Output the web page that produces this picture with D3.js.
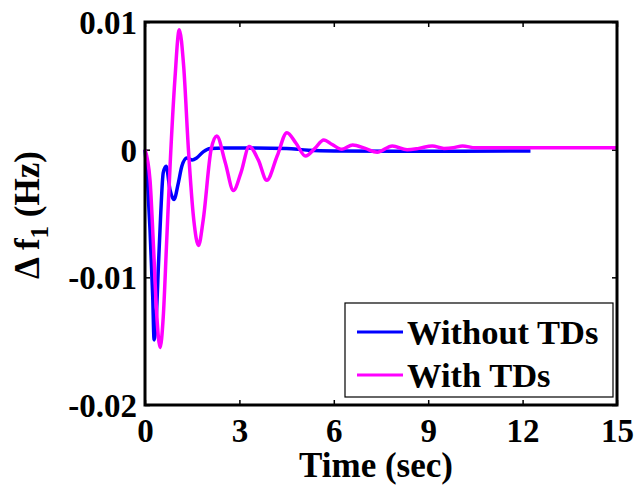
<!DOCTYPE html>
<html>
<head>
<meta charset="utf-8">
<script src="https://cdn.jsdelivr.net/npm/d3@7"></script>
<style>
  html, body { margin: 0; padding: 0; background: #fff; }
  svg text { font-family: "Liberation Serif", "Times New Roman", serif; font-weight: bold; fill: #000; }
</style>
</head>
<body>
<div id="chart"></div>
<script>
// --- Data ---
const xTicks = [0, 3, 6, 9, 12, 15];
const yTicks = [0.01, 0, -0.01, -0.02];
const yTickLabels = ['0.01', '0', '-0.01', '-0.02'];

const seriesNames = ['Without TDs', 'With TDs'];
const seriesColors = ['#0000ff', '#ff00ff'];

const tWithout = [0, 0.08, 0.16, 0.245, 0.29, 0.35, 0.43, 0.5, 0.58, 0.67, 0.8, 0.92, 1.06, 1.17, 1.33, 1.5, 1.64, 1.86, 2.07, 2.5, 3.5, 4.5, 5.2, 6, 8, 10, 12.25];
const vWithout = [0, -0.0025, -0.0063, -0.0115, -0.0149, -0.0135, -0.0089, -0.005, -0.0018, -0.0013, -0.0032, -0.0039, -0.0026, -0.0013, -0.00065, -0.0008, -0.00065, -0.00015, 0.0001, 0.00014, 0.00014, 0.0001, -0.00005, -0.0001, -0.00012, -0.00012, -0.0001];

const tWith = [0, 0.16, 0.27, 0.37, 0.48, 0.58, 0.69, 0.8, 0.95, 1.09, 1.23, 1.38, 1.55, 1.7, 1.85, 2.1, 2.28, 2.55, 2.81, 3.05, 3.31, 3.6, 3.87, 4.2, 4.51, 4.8, 5.1, 5.4, 5.68, 5.95, 6.26, 6.6, 7.0, 7.38, 7.86, 8.33, 8.7, 9.13, 9.5, 9.8, 10.09, 10.5, 11, 12, 13, 14, 15];
const vWith = [0, -0.0024, -0.0076, -0.0128, -0.0155, -0.0131, -0.0071, -0.0011, 0.0055, 0.0094, 0.0065, 0, -0.0055, -0.0075, -0.0055, 0, 0.00107, -0.001, -0.0032, -0.0018, 0.00024, -0.0008, -0.0024, -0.0005, 0.00133, 0.0005, -0.0005, 0.0001, 0.00076, 0.0004, 0.00003, 0.00037, 0.0001, -0.0002, 0.00029, 0, 0.0001, 0.00029, 0.0001, 0.00015, 0.00029, 0.00015, 0.00015, 0.00015, 0.00015, 0.00015, 0.00015];

// --- Layout ---
const W = 636, H = 485;
const margin = { top: 22, right: 19, bottom: 80, left: 145 };
const width = W - margin.left - margin.right;
const height = H - margin.top - margin.bottom;
const tickFont = 33;
const labelFont = 35;

const svg = d3.select('#chart').append('svg')
    .attr('width', W)
    .attr('height', H)
    .style('background', '#fff');

const g = svg.append('g')
    .attr('transform', `translate(${margin.left},${margin.top})`);

// --- Scales ---
const x = d3.scaleLinear().domain([0, 15]).range([0, width]);
const y = d3.scaleLinear().domain([-0.02, 0.01]).range([height, 0]);

// --- Axes (ticks point inward, MATLAB style) ---
const xAxis = g.append('g')
    .attr('transform', `translate(0,${height})`)
    .call(d3.axisBottom(x).tickValues(xTicks).tickSizeInner(-5).tickSizeOuter(0));
xAxis.selectAll('text')
    .attr('y', 25).attr('dy', '0.35em')
    .style('font-size', tickFont + 'px');

g.append('g')
    .call(d3.axisTop(x).tickValues(xTicks).tickSizeInner(-5).tickSizeOuter(0).tickFormat(''));

const yAxis = g.append('g')
    .call(d3.axisLeft(y).tickValues(yTicks).tickSizeInner(-5).tickSizeOuter(0)
        .tickFormat((d, i) => yTickLabels[i]));
yAxis.selectAll('text')
    .attr('x', -8).attr('dy', '0.35em')
    .style('font-size', tickFont + 'px');

g.append('g')
    .attr('transform', `translate(${width},0)`)
    .call(d3.axisRight(y).tickValues(yTicks).tickSizeInner(-5).tickSizeOuter(0).tickFormat(''));

g.selectAll('.domain').remove();
g.selectAll('.tick line').attr('stroke', '#000').attr('stroke-width', 1.5);

// --- Lines ---
const series = [
    tWithout.map((t, i) => [t, vWithout[i]]),
    tWith.map((t, i) => [t, vWith[i]])
];

const line = d3.line()
    .x(d => x(d[0]))
    .y(d => y(d[1]))
    .curve(d3.curveMonotoneX);

series.forEach((s, i) => {
    g.append('path')
        .datum(s)
        .attr('fill', 'none')
        .attr('stroke', seriesColors[i])
        .attr('stroke-width', 3.5)
        .attr('stroke-linejoin', 'round')
        .attr('d', line);
});

// --- Box ---
g.append('rect')
    .attr('width', width)
    .attr('height', height)
    .attr('fill', 'none')
    .attr('stroke', '#000')
    .attr('stroke-width', 3);

// --- Legend ---
const legend = g.append('g')
    .attr('transform', `translate(${345 - margin.left},${303 - margin.top})`);

legend.append('rect')
    .attr('width', 268)
    .attr('height', 94)
    .attr('fill', '#fff')
    .attr('stroke', '#000')
    .attr('stroke-width', 1.2);

seriesNames.forEach((name, i) => {
    const ly = 29 + i * 43;
    legend.append('line')
        .attr('x1', 12).attr('x2', 58)
        .attr('y1', ly).attr('y2', ly)
        .attr('stroke', seriesColors[i])
        .attr('stroke-width', 3);
    legend.append('text')
        .attr('x', 62)
        .attr('y', ly)
        .attr('dy', '0.35em')
        .style('font-size', '34.5px')
        .text(name);
});

// --- Axis labels ---
svg.append('text')
    .attr('x', margin.left + width / 2 - 5)
    .attr('y', 465)
    .attr('dy', '0.35em')
    .attr('text-anchor', 'middle')
    .style('font-size', labelFont + 'px')
    .text('Time (sec)');

const yLabel = svg.append('text')
    .attr('transform', `translate(27,${margin.top + 193}) rotate(-90)`)
    .attr('text-anchor', 'middle')
    .attr('dy', '0.35em')
    .style('font-size', labelFont + 'px');
yLabel.append('tspan').text('Δ f');
yLabel.append('tspan').attr('dy', 9).style('font-size', '25px').text('1');
yLabel.append('tspan').attr('dy', -9).text(' (Hz)');
</script>
</body>
</html>
